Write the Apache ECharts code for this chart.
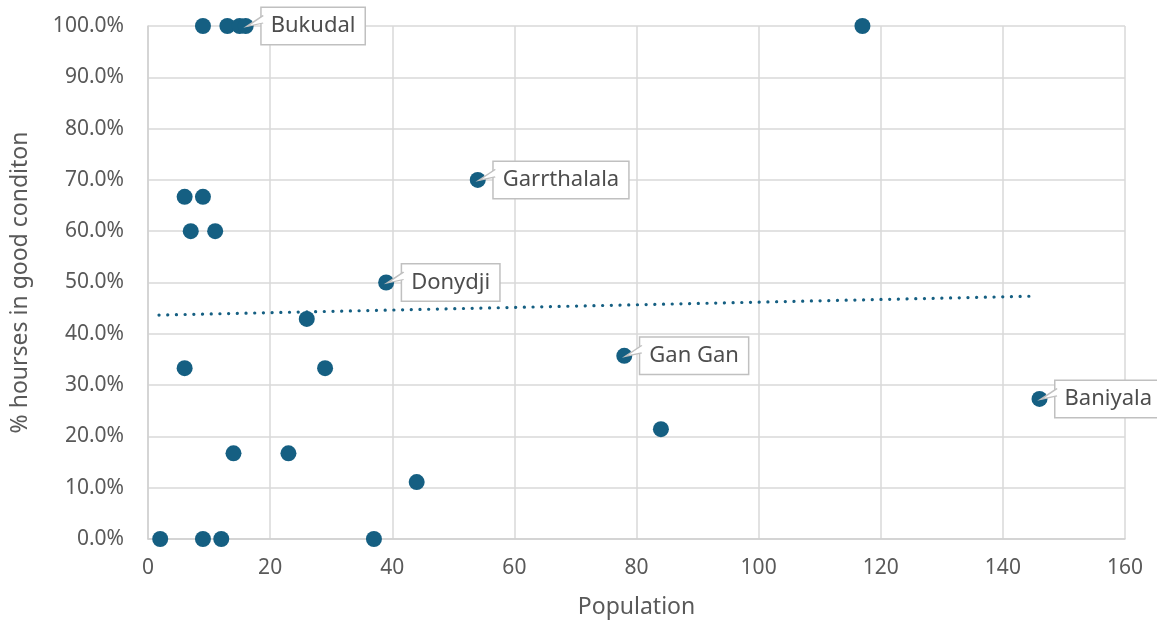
<!DOCTYPE html>
<html><head><meta charset="utf-8">
<script src="https://cdn.jsdelivr.net/npm/echarts@6/dist/echarts.min.js"></script>
<style>html,body{margin:0;padding:0;background:#fff}#c{width:1157px;height:628px}</style>
</head><body><div id="c"></div>
<script>
// Community data
const population = [9, 13, 15, 16, 117, 54, 6, 9, 7, 11, 39, 26, 6, 29, 78, 84, 146, 14, 23, 44, 2, 9, 12, 37];
const goodPct    = [100, 100, 100, 100, 100, 70, 66.7, 66.7, 60, 60, 50, 42.9, 33.3, 33.3, 35.7, 21.4, 27.3, 16.7, 16.7, 11.1, 0, 0, 0, 0];
const names      = ['', '', '', 'Bukudal', '', 'Garrthalala', '', '', '', '', 'Donydji', '', '', '', 'Gan Gan', '', 'Baniyala', '', '', '', '', '', '', ''];
// Trendline endpoints (linear)
const trendX = [1.8, 145.6];
const trendY = [43.65, 47.35];
const xTicks = [0, 20, 40, 60, 80, 100, 120, 140, 160];
const yTicks = [0, 10, 20, 30, 40, 50, 60, 70, 80, 90, 100];

const FONT = '"Noto Sans", "Open Sans", sans-serif';
const pts = population.map((x, i) => ({
  value: [x, goodPct[i]],
  name: names[i],
  label: names[i] ? { show: true } : { show: false }
}));
const labelled = population.map((x, i) => ({ value: [x, goodPct[i]], name: names[i] }))
  .filter(d => d.name);
const chart = echarts.init(document.getElementById('c'), null, {renderer: 'canvas'});
chart.setOption({
  animation: false,
  grid: { left: 148, right: 32, top: 26, bottom: 89 },
  xAxis: {
    type: 'value', min: xTicks[0], max: xTicks[xTicks.length - 1], interval: 20,
    name: 'Population', nameLocation: 'middle', nameGap: 57,
    nameTextStyle: { fontFamily: FONT, fontSize: 23, color: '#595959' },
    axisLine: { show: true, lineStyle: { color: '#d0d0d0', width: 1.5 } },
    axisTick: { show: false },
    axisLabel: { fontFamily: FONT, fontSize: 21, color: '#595959', margin: 19 },
    splitLine: { show: true, lineStyle: { color: '#d9d9d9', width: 1.5 } }
  },
  yAxis: {
    type: 'value', min: yTicks[0], max: yTicks[yTicks.length - 1], interval: 10,
    name: '% hourses in good conditon', nameLocation: 'middle', nameGap: 116,
    nameTextStyle: { fontFamily: FONT, fontSize: 23, color: '#595959' },
    axisLine: { show: true, lineStyle: { color: '#d0d0d0', width: 1.5 } },
    axisTick: { show: false },
    axisLabel: { fontFamily: FONT, fontSize: 21, color: '#595959', margin: 24,
      formatter: v => v.toFixed(1) + '%' },
    splitLine: { show: true, lineStyle: { color: '#d9d9d9', width: 1.5 } }
  },
  series: [
    {
      type: 'line', data: trendX.map((x, i) => [x, trendY[i]]),
      showSymbol: false, symbol: 'none', silent: true, z: 1,
      lineStyle: { color: '#155F82', width: 3.2, type: [0.1, 8.6], cap: 'round' }
    },
    {
      type: 'scatter', data: pts, symbolSize: 16, z: 3,
      itemStyle: { color: '#155F82', opacity: 1 },
      label: {
        position: 'right', distance: 8, formatter: p => p.name,
        fontFamily: FONT, fontSize: 22, color: '#4d4d4d',
        backgroundColor: '#fff', borderColor: '#c0c0c0', borderWidth: 1.5,
        padding: [7, 9, 7, 9]
      }
    },
    {
      // callout pointers
      type: 'scatter', data: labelled, z: 6, silent: true,
      symbol: 'path://M16.5,0 L0,11 L16.5,7.5',
      symbolSize: [16.5, 11], symbolOffset: [9.25, -5],
      itemStyle: { color: '#fff', borderColor: '#c0c0c0', borderWidth: 1.5, opacity: 1 },
      label: { show: false }
    }
  ]
});
</script></body></html>
